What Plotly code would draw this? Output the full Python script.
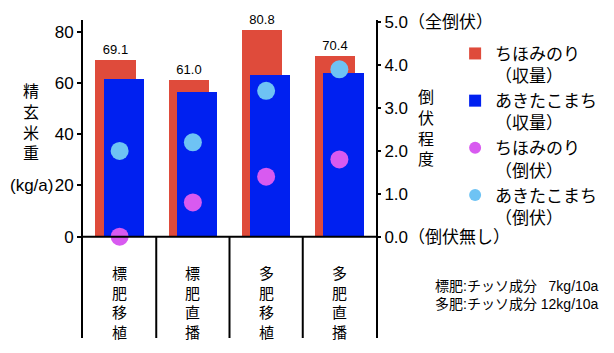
import plotly.graph_objects as go

categories = ["標肥移植", "標肥直播", "多肥移植", "多肥直播"]
chihominori_yield = [69.1, 61.0, 80.8, 70.4]
akitakomachi_yield = [61.5, 56.5, 63.3, 64.0]
chihominori_lodging = [0.0, 0.8, 1.4, 1.8]
akitakomachi_lodging = [2.0, 2.2, 3.4, 3.9]
left_ticks = [0, 20, 40, 60, 80]
right_ticks = [0, 1, 2, 3, 4, 5]
right_ticktext = ["0.0（倒伏無し）", "1.0", "2.0", "3.0", "4.0", "5.0（全倒伏）"]
note_lines = ["標肥:チッソ成分 \u20077kg/10a", "多肥:チッソ成分 12kg/10a"]

RED = "#DF4B3B"
BLUE = "#0020F0"
MAGENTA = "#D85AF0"
LIGHTBLUE = "#6EC3F4"
FONT = "Liberation Sans, Arial, Noto Sans CJK JP"

fig = go.Figure()
fig.add_trace(go.Bar(
    x=categories, y=chihominori_yield, width=0.55, offset=-0.33,
    marker=dict(color=RED, line=dict(width=0)),
    name="ちほみのり<br>（収量）",
    texttemplate="%{y:.1f}", textposition="outside",
    textfont=dict(size=13, color="black", family=FONT), cliponaxis=False,
))
fig.add_trace(go.Bar(
    x=categories, y=akitakomachi_yield, width=0.55, offset=-0.22,
    marker=dict(color=BLUE, line=dict(width=0)),
    name="あきたこまち<br>（収量）", textposition="none",
))
fig.add_trace(go.Scatter(
    x=categories, y=chihominori_lodging, yaxis="y2", mode="markers",
    marker=dict(color=MAGENTA, size=18), showlegend=False, cliponaxis=False,
))
fig.add_trace(go.Scatter(
    x=categories, y=akitakomachi_lodging, yaxis="y2", mode="markers",
    marker=dict(color=LIGHTBLUE, size=18), showlegend=False, cliponaxis=False,
))
# legend-only entries for the dots
fig.add_trace(go.Scatter(x=[None], y=[None], yaxis="y2", mode="markers",
                         marker=dict(color=MAGENTA, size=12), name="ちほみのり<br>（倒伏）"))
fig.add_trace(go.Scatter(x=[None], y=[None], yaxis="y2", mode="markers",
                         marker=dict(color=LIGHTBLUE, size=12), name="あきたこまち<br>（倒伏）"))

ymin_left, ymax_left = -39.55, 84.6
ymin_right, ymax_right = -2.36, 5.05

# baseline and category dividers
fig.add_shape(type="line", xref="x", yref="y", x0=-0.5, x1=3.5, y0=0, y1=0,
              line=dict(color="black", width=2))
for i in range(1, len(categories)):
    fig.add_shape(type="line", xref="x", yref="y", x0=i - 0.5, x1=i - 0.5,
                  y0=ymin_left, y1=0, line=dict(color="black", width=2))

# category labels (vertical)
for i, c in enumerate(categories):
    fig.add_annotation(x=c, xref="x", xanchor="center", y=0.237, yref="paper", yanchor="top",
                       text="<br>".join(list(c)), showarrow=False,
                       font=dict(size=15, color="black", family=FONT))

# axis titles
fig.add_annotation(x=-0.179, y=0.679, xref="paper", yref="paper", xanchor="center", yanchor="middle",
                   text="精<br>玄<br>米<br>重",
                   showarrow=False, font=dict(size=16, color="black", family=FONT))
fig.add_annotation(x=-0.177, y=0.478, xref="paper", yref="paper", xanchor="center", yanchor="middle",
                   text="(kg/a)",
                   showarrow=False, font=dict(size=17, color="black", family=FONT))
fig.add_annotation(x=1.171, y=0.66, xref="paper", yref="paper", xanchor="center", yanchor="middle",
                   text="倒<br>伏<br>程<br>度",
                   showarrow=False, font=dict(size=16, color="black", family=FONT))

# notes
fig.add_annotation(x=1.196, y=0.134, xref="paper", yref="paper", xanchor="left", yanchor="middle",
                   align="left", text="<br>".join(note_lines), showarrow=False,
                   font=dict(size=14, color="black", family=FONT))

fig.update_layout(
    width=614, height=353,
    margin=dict(l=83, r=229, t=20, b=15),
    paper_bgcolor="white", plot_bgcolor="white",
    barmode="overlay", bargap=0,
    font=dict(family=FONT, color="black", size=17),
    xaxis=dict(range=[-0.5, 3.5], showticklabels=False, showgrid=False,
               zeroline=False, showline=False, ticks=""),
    yaxis=dict(range=[ymin_left, ymax_left], tickvals=left_ticks, showgrid=False,
               zeroline=False, showline=True, linecolor="black", linewidth=2,
               ticks="outside", ticklen=4, tickwidth=1.5, tickcolor="black",
               tickfont=dict(size=17)),
    yaxis2=dict(range=[ymin_right, ymax_right], overlaying="y", side="right",
                tickvals=right_ticks, ticktext=right_ticktext, showgrid=False,
                zeroline=False, showline=True, linecolor="black", linewidth=2,
                ticks="outside", ticklen=3, tickwidth=1.5, tickcolor="black",
                tickfont=dict(size=17)),
    legend=dict(x=1.27, xanchor="left", y=0.95, yanchor="top", valign="top",
                font=dict(size=17, family=FONT), bgcolor="rgba(0,0,0,0)",
                traceorder="normal"),
)

fig.write_html("out.html")
